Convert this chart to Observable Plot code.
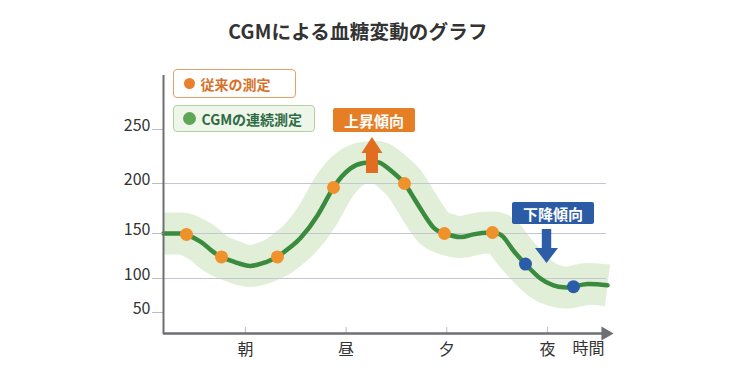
<!DOCTYPE html>
<html><head><meta charset="utf-8">
<script src="https://cdn.jsdelivr.net/npm/d3@7"></script>
<script src="https://cdn.jsdelivr.net/npm/@observablehq/plot@0.6"></script>
<style>
body{margin:0;background:#fff;font-family:"Noto Sans CJK JP","Noto Sans",sans-serif;}
#wrap{position:relative;width:729px;height:380px;overflow:hidden;background:#fff;}
#title{position:absolute;left:0;top:17px;width:716px;text-align:center;font-size:19.5px;font-weight:700;color:#333;line-height:28px;letter-spacing:0.2px;}
.legend{position:absolute;box-sizing:border-box;border-radius:4px;font-weight:700;font-size:14px;display:flex;align-items:center;white-space:nowrap;}
.legend .dot{display:inline-block;border-radius:50%;margin-right:6px;}
.ann{position:absolute;box-sizing:border-box;color:#fff;font-weight:700;font-size:15px;display:flex;align-items:center;justify-content:center;border-radius:2px;white-space:nowrap;}
</style></head><body><div id="wrap"></div>
<script>
// ---- data ----
const titleText = "CGMによる血糖変動のグラフ";
const curveTimes   = [0.186,0.355,0.414,0.553,0.653,0.762,0.901,1.050,1.199,1.318,1.448,1.547,1.716,1.875,2.044,2.173,2.262,2.342,2.471,2.580,2.670,2.769,2.868,2.977,3.136,3.265,3.454,3.563,3.663,3.782,3.931,4.060,4.159,4.259,4.398,4.597];
const curveValues  = [150,150,149,141,132,124,118,114,118,124,135,145,168,196,214,219,220,219,210,200,186,170,156,150,146,149,151,146,131,116,100,90,87,88,92,90];
const fingerTimes  = [0.414,0.762,1.318,1.875,2.580,2.977,3.454];
const fingerValues = [149,124,124,196,200,150,151];
const cgmTimes     = [3.782,4.259];
const cgmValues    = [116,88];
const yTicks = [50,100,150,200,250];
const gridValues = [100,150,200];
const xTicks = [1,2,3,4];
const xTickLabels = ["朝","昼","夕","夜"];
const xAxisTitle = "時間";
const legendLabels = ["従来の測定","CGMの連続測定"];
const trendLabels = ["上昇傾向","下降傾向"];
const trendArrowX = [2.262,3.996];
const trendArrowTip = [242.6,116.7];
const trendArrowTail = [209.3,154];
const trendBoxX = [2.282,4.060];
const trendBoxY = [258.3,170];
const xDomain = [0.186,4.587];
const yDomain = [19,50,100,150,200,250,300];

// ---- tables ----
const curve = curveTimes.map((t,i)=>({t, v: curveValues[i]}));
const finger = fingerTimes.map((t,i)=>({t, v: fingerValues[i]}));
const cgm = cgmTimes.map((t,i)=>({t, v: cgmValues[i]}));
const axisColor = "#6e6f74";

const plot = Plot.plot({
  width: 729, height: 380,
  marginLeft: 163, marginRight: 123, marginTop: 75, marginBottom: 47,
  style: {fontFamily: '"Noto Sans CJK JP","Noto Sans",sans-serif', background: "transparent", overflow: "visible"},
  x: {type: "linear", domain: xDomain},
  y: {type: "linear", domain: yDomain, range: [333,312,278,233,183,129,75]},
  marks: [
    Plot.line(curve, {x: "t", y: "v", curve: "natural", stroke: "#e2efd8", strokeWidth: 42, strokeLinecap: "butt"}),
    Plot.gridY(gridValues, {stroke: "#c4c7d3", strokeOpacity: 1, strokeWidth: 1.2}),
    Plot.line(curve, {x: "t", y: "v", curve: "natural", stroke: "#3b8b3f", strokeWidth: 4.5}),
    Plot.dot(finger, {x: "t", y: "v", r: 6.5, fill: "#f0922c"}),
    Plot.dot(cgm, {x: "t", y: "v", r: 6.5, fill: "#2b5ca8"}),
    Plot.axisY(yTicks, {tickSize: 11, tickFormat: () => "", stroke: "#b9bcc6", label: null}),
    Plot.axisY(yTicks, {tickSize: 0, tickPadding: 13, dy: -4, fontSize: 16, fill: "#333", label: null}),
    Plot.ruleX(xTicks, {stroke: "#b9bcc6", strokeWidth: 1, insetTop: 252}),
    Plot.axisX(xTicks, {tickSize: 0, tickPadding: 10, fontSize: 16, fill: "#333", label: null, tickFormat: d => xTickLabels[xTicks.indexOf(d)]}),
    Plot.text([xAxisTitle], {frameAnchor: "bottom-right", dx: -18, dy: 20, fontSize: 16, fill: "#333", textAnchor: "middle"}),
    Plot.ruleX([xDomain[0]], {stroke: axisColor, strokeWidth: 2, insetBottom: -1}),
    Plot.ruleY([yDomain[0]], {stroke: axisColor, strokeWidth: 2.5, insetRight: 4}),
    Plot.dot([{x: xDomain[1], y: yDomain[0]}], {x: "x", y: "y", symbol: "triangle", rotate: 90, r: 5.2, fill: axisColor, dx: -1})
  ]
});

const wrap = document.getElementById("wrap");
wrap.appendChild(plot);
const xs = plot.scale("x"), ys = plot.scale("y");

const svg = d3.select(plot);
{
  const cx = xs.apply(trendArrowX[0]), tip = ys.apply(trendArrowTip[0]), tail = ys.apply(trendArrowTail[0]);
  const hw = 10.5, hl = 16, sw = 6;
  svg.append("path").attr("fill", "#e26d20")
    .attr("d", `M${cx},${tip}L${cx+hw},${tip+hl}L${cx+sw},${tip+hl}L${cx+sw},${tail}L${cx-sw},${tail}L${cx-sw},${tip+hl}L${cx-hw},${tip+hl}Z`);
}
{
  const cx = xs.apply(trendArrowX[1]), tip = ys.apply(trendArrowTip[1]), tail = ys.apply(trendArrowTail[1]);
  const hw = 11.5, hl = 15, sw = 4.7;
  svg.append("path").attr("fill", "#2d5da7")
    .attr("d", `M${cx},${tip}L${cx+hw},${tip-hl}L${cx+sw},${tip-hl}L${cx+sw},${tail}L${cx-sw},${tail}L${cx-sw},${tip-hl}L${cx-hw},${tip-hl}Z`);
}

const t = document.createElement("div");
t.id = "title"; t.textContent = titleText; wrap.appendChild(t);

function legend(label, left, top, w, h, border, bg, color, dotColor, dotSize) {
  const d = document.createElement("div");
  d.className = "legend";
  Object.assign(d.style, {left: left+"px", top: top+"px", width: w+"px", height: h+"px", border: border, background: bg, color: color, paddingLeft: (15 - dotSize/2)+"px"});
  const dot = document.createElement("span");
  dot.className = "dot";
  Object.assign(dot.style, {width: dotSize+"px", height: dotSize+"px", background: dotColor});
  d.appendChild(dot);
  const s = document.createElement("span"); s.textContent = label; d.appendChild(s);
  wrap.appendChild(d);
}
legend(legendLabels[0], 173, 69, 123, 29, "1.5px solid #e6a06a", "#fff", "#d6712a", "#e8802e", 11);
legend(legendLabels[1], 173, 105, 142, 27, "1.2px solid #afd39f", "#eef6e9", "#2e6b44", "#5ea554", 13);

function box(label, x, y, w, h, bg) {
  const d = document.createElement("div");
  d.className = "ann"; d.textContent = label;
  Object.assign(d.style, {left: (xs.apply(x) - w/2)+"px", top: (ys.apply(y) - h/2)+"px", width: w+"px", height: h+"px", background: bg});
  wrap.appendChild(d);
}
box(trendLabels[0], trendBoxX[0], trendBoxY[0], 82, 24, "#e67e26");
box(trendLabels[1], trendBoxX[1], trendBoxY[1], 82, 22, "#2c5ba6");
</script>
</body></html>
